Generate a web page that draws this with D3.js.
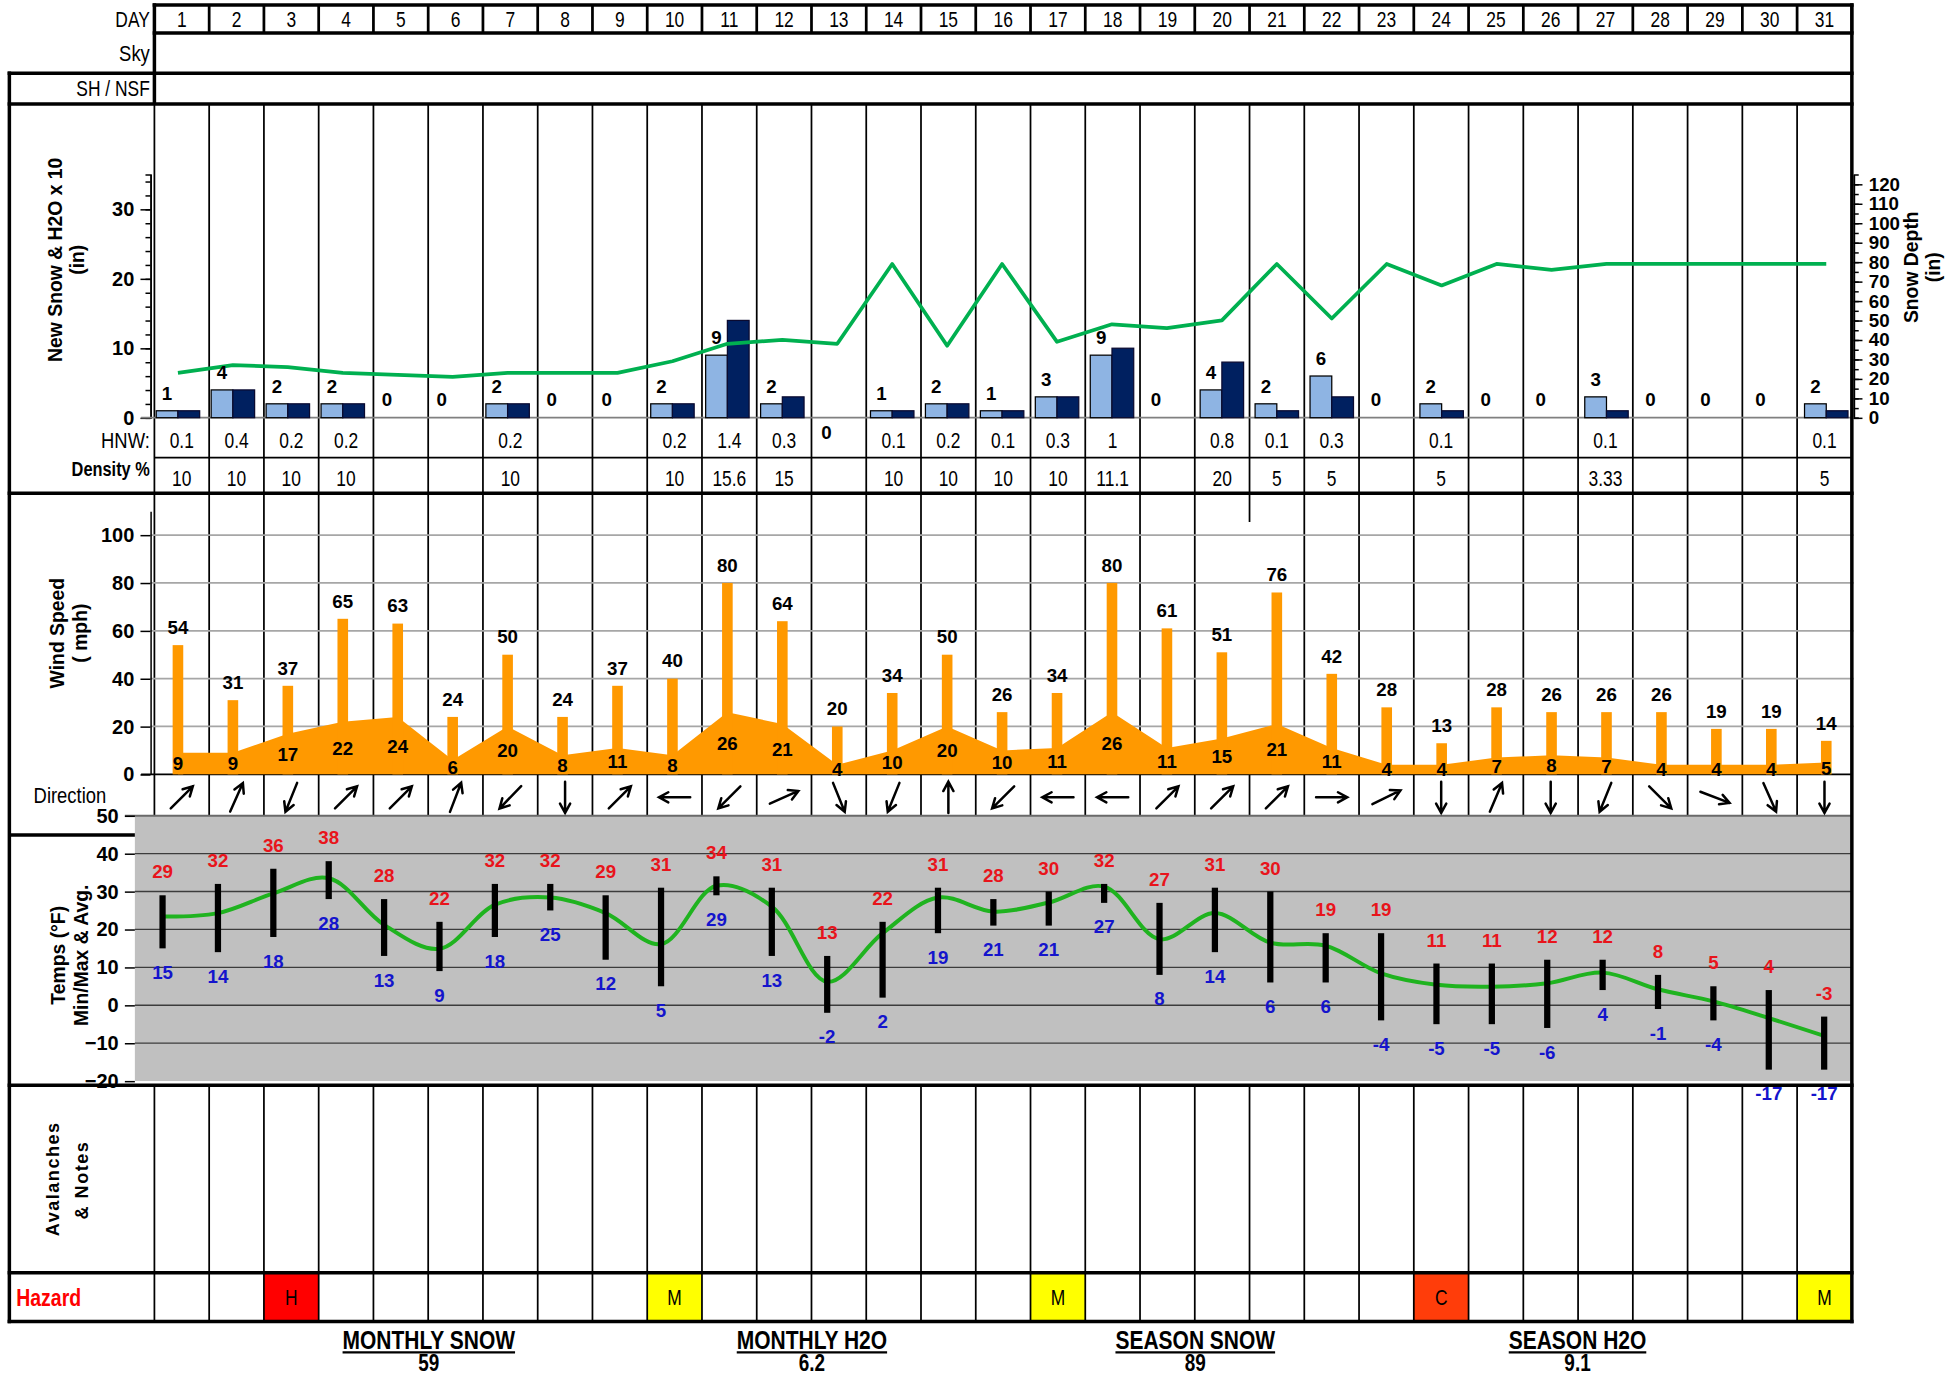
<!DOCTYPE html>
<html><head><meta charset="utf-8">
<script src="https://cdn.jsdelivr.net/npm/d3@7"></script>
<style>html,body{margin:0;padding:0;background:#fff;} svg{display:block;}</style>
</head><body>
<svg id="chart"></svg>
<script>
// ---------------- DATA ----------------
const days = d3.range(1, 32);
const newSnow = [1,4,2,2,0,0,2,0,0,2,9,2,0,1,2,1,3,9,0,4,2,6,0,2,0,0,3,0,0,0,2];
const hnw = [0.1,0.4,0.2,0.2,null,null,0.2,null,null,0.2,1.4,0.3,null,0.1,0.2,0.1,0.3,1,null,0.8,0.1,0.3,null,0.1,null,null,0.1,null,null,null,0.1];
const density = [10,10,10,10,null,null,10,null,null,10,15.6,15,null,10,10,10,10,11.1,null,20,5,5,null,5,null,null,3.33,null,null,null,5];
const snowDepth = [23,27,26,23,22,21,23,23,23,29,38,40,38,79,37,79,39,48,46,50,79,51,79,68,79,76,79,79,79,79,79];
const windGust = [54,31,37,65,63,24,50,24,37,40,80,64,20,34,50,26,34,80,61,51,76,42,28,13,28,26,26,26,19,19,14];
const windAvg = [9,9,17,22,24,6,20,8,11,8,26,21,4,10,20,10,11,26,11,15,21,11,4,4,7,8,7,4,4,4,5];
const windDir = [45,24,202,45,45,21,224,180,45,270,225,66,158,202,0,225,270,270,45,45,45,90,64,180,23,180,202,135,111,156,180];
const tMax = [29,32,36,38,28,22,32,32,29,31,34,31,13,22,31,28,30,32,27,31,30,19,19,11,11,12,12,8,5,4,-3];
const tMin = [15,14,18,28,13,9,18,25,12,5,29,13,-2,2,19,21,21,27,8,14,6,6,-4,-5,-5,-6,4,-1,-4,-17,-17];
const tAvg = [23.4,24.3,29.5,33.5,21.2,14.9,26.5,28.4,24.3,16.1,31.5,26,6.2,19,28.4,24.7,27.1,31.3,17.4,24.3,16.5,15.7,8.4,5.4,4.9,5.8,8.6,4.2,1,-3.4,-8.1];
const hazardDays = [3,10,17,24,31];
const hazardLevels = ["H","M","M","C","M"];
const summaryLabels = ["MONTHLY SNOW","MONTHLY H2O","SEASON SNOW","SEASON H2O"];
const summaryValues = ["59","6.2","89","9.1"];
const snowTicks = [0,10,20,30];
const depthTicks = d3.range(0,121,10);
const windTicks = [0,20,40,60,80,100];
const tempTicks = [50,40,30,20,10,0,-10,-20];

// ---------------- SETUP ----------------
const W = 1568, H = 1102.7;
const svg = d3.select("#chart").attr("width",1958).attr("height",1377).attr("viewBox",`0 0 ${W} ${H}`);
const SANS = "'Liberation Sans',Arial,Helvetica,sans-serif";
const NX = 0.82; // horizontal squeeze to imitate a narrow face
const hazardColor = {H:"#FF0000", M:"#FFFF00", C:"#FF3D0A"};

const L0 = 7.5, GX = 123.65, RX = 1483;
const Y = {dayTop:4, dayBot:26.5, skyBot:58.7, shBot:83.3, snowBot:395, hnwLine:366.5,
  dirBot:653.2, leftSep:668.7, tempLine:869, avBot:1019.2, hazBot:1058.2};

const colX = d3.scaleBand().domain(days).range([GX, RX]);
const cw = colX.bandwidth();
const ccx = d => colX(d) + cw/2;
const chartX = d3.scaleBand().domain(days).range([120.5, 1484.5]);
const cx = d => chartX(d) + chartX.bandwidth()/2;
const tempX = d3.scaleBand().domain(days).range([108, RX]);
const tx = d => tempX(d) + tempX.bandwidth()/2;

const ySnow = d3.scaleLinear().domain([0,35]).range([334.5,139.7]);
const yDepth = d3.scaleLinear().domain([0,125]).range([334.5,139.7]);
const yWind = d3.scaleLinear().domain([0,110]).range([620.1,409.3]);
const yTemp = d3.scaleLinear().domain([-20,50]).range([865.7,653.2]);

const g = svg.append("g");
function line(x1,y1,x2,y2,w,c){ return g.append("line").attr("x1",x1).attr("y1",y1).attr("x2",x2).attr("y2",y2)
  .attr("stroke",c||"#000").attr("stroke-width",w); }
function text(x,y,s,opt){ opt=opt||{};
  return g.append("text").attr("x",x).attr("y",y).text(s)
   .attr("font-family",SANS).attr("font-size",opt.fs||15).attr("font-weight",opt.fw||"normal")
   .attr("fill",opt.fill||"#000").attr("text-anchor",opt.anchor||"middle"); }
function ntext(x,y,s,opt){ opt=opt||{};
  return g.append("text").attr("transform",`translate(${x},${y}) scale(${NX},1)`).text(s)
   .attr("font-family",SANS).attr("font-size",opt.fs||16).attr("font-weight",opt.fw||"normal")
   .attr("fill",opt.fill||"#000").attr("text-anchor",opt.anchor||"middle"); }

// ---------------- BACKGROUNDS ----------------
g.append("rect").attr("x",108).attr("y",yTemp(50)).attr("width",RX-108).attr("height",yTemp(-20)-yTemp(50)).attr("fill","#C0C0C0");
hazardDays.forEach((d,i)=>{
  g.append("rect").attr("x",colX(d)).attr("y",Y.avBot).attr("width",cw).attr("height",Y.hazBot-Y.avBot)
   .attr("fill",hazardColor[hazardLevels[i]]);
});

// ---------------- GRID / COLUMN LINES ----------------
const bounds = d3.range(0,32).map(i=>GX+i*cw);
bounds.forEach((x,i)=>{
  line(x,Y.dayTop,x,Y.dayBot,2.2);
  line(x,Y.shBot,x,Y.snowBot,1.4);
  line(x,Y.snowBot,x,i===20?418:yWind(0),1.4);
  line(x,yWind(0),x,Y.dirBot,1.4);
  line(x,Y.tempLine,x,Y.hazBot,1.4);
});
line(GX,Y.hnwLine,RX,Y.hnwLine,1.4);

windTicks.filter(v=>v>0).forEach(v=>line(120.5,yWind(v),1484.5,yWind(v),1.4,"#A6A6A6"));
line(113,yWind(0),RX,yWind(0),1.4,"#000");
[40,30,20,10,0,-10].forEach(v=>line(108,yTemp(v),RX,yTemp(v),1.1,"#3c3c3c"));
line(100,yTemp(50),RX,yTemp(50),1.6,"#6a6a6a");

// ---------------- AXES ----------------
function styleAxis(sel, fs){
  sel.select(".domain").attr("stroke","#000").attr("stroke-width",1.2);
  sel.selectAll(".tick line").attr("stroke","#000").attr("stroke-width",1.2);
  sel.selectAll(".tick text").attr("font-family",SANS).attr("font-weight","bold").attr("font-size",fs||16).attr("fill","#000");
}
const aSnowMinor = g.append("g").attr("transform","translate(120.5,0)")
  .call(d3.axisLeft(ySnow).tickValues(d3.range(0,35,2)).tickSize(4).tickFormat(""));
styleAxis(aSnowMinor);
const aSnow = g.append("g").attr("transform","translate(120.5,0)")
  .call(d3.axisLeft(ySnow).tickValues(snowTicks).tickSize(8).tickPadding(5).tickSizeOuter(0));
styleAxis(aSnow);
const aDepthMinor = g.append("g").attr("transform","translate(1484.5,0)")
  .call(d3.axisRight(yDepth).tickValues(d3.range(0,125,5)).tickSize(4).tickFormat(""));
styleAxis(aDepthMinor);
const aDepth = g.append("g").attr("transform","translate(1484.5,0)")
  .call(d3.axisRight(yDepth).tickValues(depthTicks).tickSize(7).tickPadding(5).tickSizeOuter(0));
styleAxis(aDepth,15);
const aWind = g.append("g").attr("transform","translate(120.5,0)")
  .call(d3.axisLeft(yWind).tickValues(windTicks).tickSize(8).tickPadding(5).tickSizeOuter(0));
styleAxis(aWind);
const aTemp = g.append("g").attr("transform","translate(108,0)")
  .call(d3.axisLeft(yTemp).tickValues(tempTicks).tickSize(8).tickPadding(5).tickSizeOuter(0));
styleAxis(aTemp);
aTemp.select(".domain").attr("stroke","none");

line(113,ySnow(0),1484.5,ySnow(0),1.4,"#808080");

// ---------------- SNOW CHART ----------------
const bw = 17.4;
days.forEach((d,i)=>{
  const c = cx(d);
  if (newSnow[i]>0) g.append("rect").attr("x",c-bw).attr("y",ySnow(newSnow[i])).attr("width",bw)
     .attr("height",ySnow(0)-ySnow(newSnow[i])).attr("fill","#8EB4E3").attr("stroke","#000").attr("stroke-width",1);
  const h = hnw[i] ? hnw[i]*10 : 0;
  if (h>0) g.append("rect").attr("x",c).attr("y",ySnow(h)).attr("width",bw)
     .attr("height",ySnow(0)-ySnow(h)).attr("fill","#002060").attr("stroke","#0a0a30").attr("stroke-width",1);
});
g.append("path").datum(days).attr("fill","none").attr("stroke","#00B050").attr("stroke-width",3)
  .attr("stroke-linejoin","round")
  .attr("d",d3.line().x(d=>cx(d)).y(d=>yDepth(snowDepth[d-1])));
days.forEach((d,i)=>{
  const below = (d===13);
  const y = below ? ySnow(0)+17 : ySnow(newSnow[i]) - 9;
  text(cx(d)-bw/2, y, newSnow[i], {fw:"bold", fs:15});
});
days.forEach((d,i)=>{
  if (hnw[i]!==null) ntext(ccx(d), 359, String(hnw[i]), {fs:17});
  if (density[i]!==null) ntext(ccx(d), 389, String(density[i]), {fs:17});
});

// ---------------- WIND CHART ----------------
g.append("path").datum(days).attr("fill","#FF9900")
  .attr("d",d3.area().x(d=>cx(d)).y0(yWind(0)).y1(d=>yWind(windAvg[d-1])));
days.forEach((d,i)=>{
  g.append("rect").attr("x",cx(d)-4.25).attr("y",yWind(windGust[i])).attr("width",8.5)
    .attr("height",yWind(0)-yWind(windGust[i])).attr("fill","#FF9900");
});
days.forEach((d,i)=>{
  text(cx(d), yWind(windGust[i])-9, windGust[i], {fw:"bold", fs:15});
  text(cx(d), (yWind(windAvg[i])+yWind(0))/2+5.5, windAvg[i], {fw:"bold", fs:15});
});
days.forEach((d,i)=>{
  const a = windDir[i]*Math.PI/180, L = 25, hl = 8.5;
  const dx = Math.sin(a), dy = -Math.cos(a);
  const x0 = ccx(d), y0 = 638.5;
  const x1 = x0 - dx*L/2, y1 = y0 - dy*L/2, x2 = x0 + dx*L/2, y2 = y0 + dy*L/2;
  const ang = Math.atan2(dy,dx), sp = 0.5;
  const h1x = x2 - hl*Math.cos(ang-sp), h1y = y2 - hl*Math.sin(ang-sp);
  const h2x = x2 - hl*Math.cos(ang+sp), h2y = y2 - hl*Math.sin(ang+sp);
  g.append("path").attr("d",`M${x1},${y1}L${x2},${y2}M${h1x},${h1y}L${x2},${y2}L${h2x},${h2y}`)
    .attr("fill","none").attr("stroke","#000").attr("stroke-width",2).attr("stroke-linecap","round");
});

// ---------------- TEMPERATURE CHART ----------------
g.append("path").datum(days).attr("fill","none").attr("stroke","#1FB31F").attr("stroke-width",3.2)
  .attr("d",d3.line().curve(d3.curveCatmullRom.alpha(0.5)).x(d=>tx(d)).y(d=>yTemp(tAvg[d-1])));
days.forEach((d,i)=>{
  g.append("rect").attr("x",tx(d)-2.5).attr("y",yTemp(tMax[i])).attr("width",5)
   .attr("height",yTemp(tMin[i])-yTemp(tMax[i])).attr("fill","#000");
  text(tx(d), yTemp(tMax[i])-13.5, tMax[i], {fw:"bold", fs:15, fill:"#E8141B"});
  text(tx(d), yTemp(tMin[i])+24.5, tMin[i], {fw:"bold", fs:15, fill:"#1414CC"});
});

// ---------------- HAZARD TEXT ----------------
hazardDays.forEach((d,i)=> ntext(ccx(d), 1045, hazardLevels[i], {fs:17}));
ntext(13, 1045.5, "Hazard", {fs:19, fw:"bold", fill:"#FF0000", anchor:"start"});

// ---------------- HEADER TABLE ----------------
days.forEach(d=> ntext(ccx(d), 21.5, d, {fs:17}));
ntext(120, 21.5, "DAY", {fs:17, anchor:"end"});
ntext(120, 49, "Sky", {fs:18, anchor:"end"});
ntext(120, 77, "SH / NSF", {fs:17, anchor:"end"});
ntext(120, 359, "HNW:", {fs:18, anchor:"end"});
ntext(120, 381, "Density %", {fs:16, fw:"bold", anchor:"end"});
ntext(56, 643, "Direction", {fs:18});

function vtext(x,y,s,opt){ opt=opt||{};
  return g.append("text").attr("transform",`translate(${x},${y}) rotate(-90)`).text(s)
   .attr("font-family",SANS).attr("font-size",opt.fs||15.5).attr("font-weight","bold")
   .attr("text-anchor","middle").attr("dominant-baseline","central")
   .attr("letter-spacing",opt.ls||0).attr("fill","#000"); }
vtext(44,208,"New Snow & H2O x 10");
vtext(62,208,"(in)");
vtext(1530,214,"Snow Depth");
vtext(1548,214,"(in)");
vtext(46,507,"Wind Speed");
vtext(64,507,"( mph)");
vtext(46.5,765,"Temps (°F)");
vtext(64.5,765,"Min/Max & Avg.");
vtext(42.5,944,"Avalanches",{fs:14.5,ls:1.2});
vtext(66,945,"& Notes",{fs:14.5,ls:1.2});

// ---------------- THICK BORDERS ----------------
const TW = 2.8;
[[GX,Y.dayTop],[GX,Y.dayBot],[L0,Y.skyBot],[L0,Y.shBot],[L0,Y.snowBot],[L0,Y.tempLine],[L0,Y.avBot],[L0,Y.hazBot]]
  .forEach(([x,y])=>line(x-TW/2,y,RX+TW/2,y,TW));
line(L0,Y.leftSep,108,Y.leftSep,TW);
line(GX,Y.dayTop-TW/2,GX,Y.shBot,TW);
line(L0,Y.skyBot-TW/2,L0,Y.hazBot+TW/2,TW);
line(RX,Y.dayTop-TW/2,RX,Y.hazBot+TW/2,TW);

// ---------------- FOOTER ----------------
const footX = [343.4,650.2,957.2,1263.3];
summaryLabels.forEach((s,i)=>{
  const t = ntext(footX[i], 1080, s, {fs:20.5, fw:"bold"});
  const w = t.node().getComputedTextLength()*NX;
  line(footX[i]-w/2, 1083, footX[i]+w/2, 1083, 1.8);
  ntext(footX[i], 1098, summaryValues[i], {fs:18.5, fw:"bold"});
});
</script>
</body></html>
